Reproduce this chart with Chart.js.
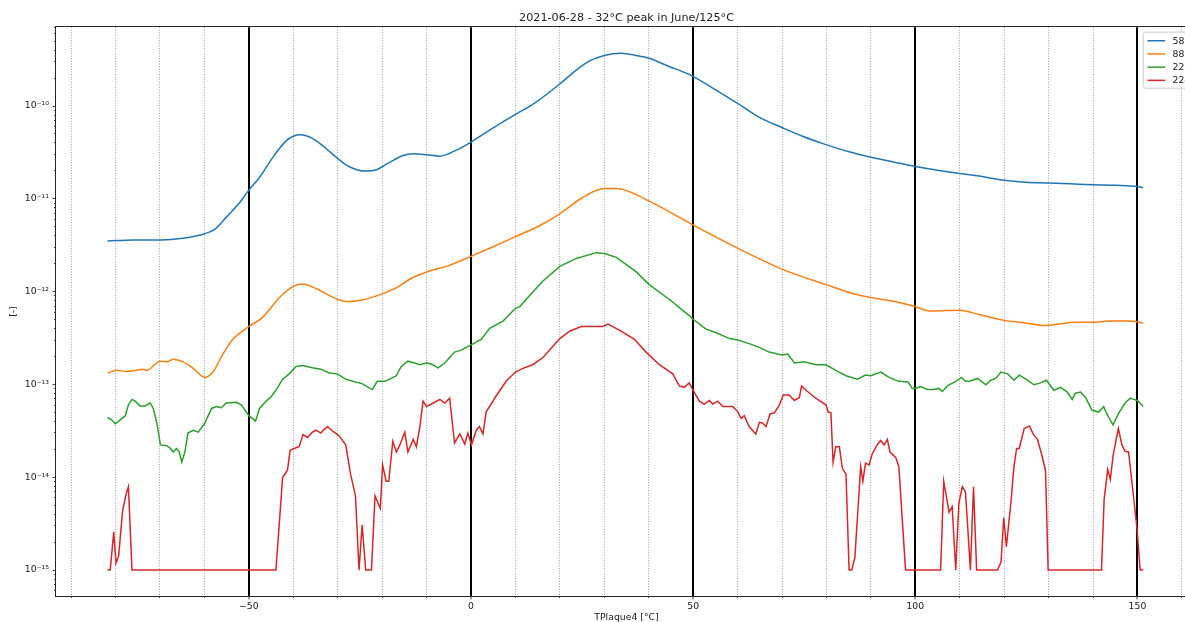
<!DOCTYPE html>
<html>
<head>
<meta charset="utf-8">
<title>TPlaque4 sweep</title>
<script src="https://cdn.jsdelivr.net/npm/chart.js@4/dist/chart.umd.min.js"></script>
<style>
  html, body { margin: 0; padding: 0; background: #fff; overflow: hidden; }
  #wrap { width: 1185px; height: 622px; overflow: hidden; position: relative; }
  canvas { display: block; }
</style>
</head>
<body>
<div id="wrap"><canvas id="chart" width="1253" height="626"></canvas></div>
<script>
// ---- text ----
const titleText = '2021-06-28 - 32\u00b0C peak in June/125\u00b0C';
const xTitle = 'TPlaque4 [\u00b0C]';
const yTitle = '[-]';
const seriesNames = ['58', '88', '223', '224'];
const seriesColors = ['#1f77b4', '#ff7f0e', '#2ca02c', '#d62728'];

// ---- axes ----
const xMin = -93.4, xMax = 163.4;
const yMin = 5.25e-16, yMax = 7.08e-10;
const xGridTicks = [-90, -80, -70, -60, -50, -40, -30, -20, -10, 0, 10, 20, 30, 40, 50, 60, 70, 80, 90, 100, 110, 120, 130, 140, 150, 160];
const xMajorTicks = [-50, 0, 50, 100, 150];
const yDecades = [-16, -15, -14, -13, -12, -11, -10];

// ---- measurements: [temperature °C, value] ----
const trace58 = [
  [-81.8, 3.51e-12], [-76, 3.61e-12], [-69.9, 3.61e-12], [-64.8, 3.77e-12], [-59.9, 4.21e-12],
  [-57.7, 4.69e-12], [-55.1, 6.31e-12], [-52.1, 9.06e-12], [-50, 1.24e-11], [-47.6, 1.70e-11],
  [-44.6, 2.80e-11], [-41.6, 4.21e-11], [-40, 4.73e-11], [-38.3, 4.90e-11], [-35.7, 4.48e-11],
  [-32.7, 3.51e-11], [-30.1, 2.75e-11], [-27.5, 2.23e-11], [-23.7, 1.99e-11], [-21.5, 2.04e-11],
  [-18.5, 2.44e-11], [-15.3, 2.93e-11], [-13, 3.06e-11], [-10, 2.99e-11], [-7, 2.88e-11],
  [-3.3, 3.35e-11], [0, 4.09e-11], [4.2, 5.51e-11], [10, 8.13e-11], [13.9, 1.04e-10],
  [20, 1.73e-10], [23.7, 2.44e-10], [26.7, 3.06e-10], [30, 3.51e-10], [33.8, 3.71e-10],
  [37.2, 3.51e-10], [40.1, 3.27e-10], [44.6, 2.67e-10], [49.1, 2.19e-10], [54.4, 1.56e-10],
  [60.1, 1.06e-10], [64.9, 7.55e-11], [70, 5.87e-11], [74.6, 4.73e-11], [79.9, 3.84e-11],
  [85.1, 3.21e-11], [90, 2.80e-11], [94.8, 2.51e-11], [100, 2.23e-11], [105.3, 2.02e-11],
  [110, 1.87e-11], [115, 1.74e-11], [120, 1.585e-11], [124.9, 1.51e-11], [129.9, 1.48e-11],
  [134.9, 1.45e-11], [139.9, 1.42e-11], [145, 1.40e-11], [150, 1.36e-11], [151.3, 1.32e-11]
];

const trace88 = [
  [-81.8, 1.33e-13], [-79.7, 1.42e-13], [-77.5, 1.38e-13], [-75.2, 1.42e-13], [-74.1, 1.46e-13],
  [-73, 1.42e-13], [-69.9, 1.78e-13], [-68.5, 1.75e-13], [-67, 1.87e-13], [-64.8, 1.75e-13],
  [-62.5, 1.49e-13], [-59.9, 1.19e-13], [-58.1, 1.36e-13], [-55.8, 2.13e-13], [-53.6, 3.06e-13],
  [-50, 4.21e-13], [-46.9, 5.28e-13], [-43.1, 8.65e-13], [-40, 1.14e-12], [-37.9, 1.21e-12],
  [-34.9, 1.08e-12], [-30.1, 8.28e-13], [-28.2, 7.83e-13], [-24.5, 8.13e-13], [-20, 9.46e-13],
  [-16.5, 1.12e-12], [-13.8, 1.36e-12], [-10, 1.63e-12], [-5.5, 1.87e-12], [0, 2.40e-12],
  [4.2, 2.93e-12], [10, 3.91e-12], [15.4, 5.13e-12], [20, 6.90e-12], [25.2, 1.04e-11],
  [30, 1.29e-11], [32.7, 1.29e-11], [40.1, 9.46e-12], [49.1, 5.51e-12], [60.1, 2.93e-12],
  [70, 1.75e-12], [79.9, 1.19e-12], [85.9, 9.55e-13], [90, 8.65e-13], [94.8, 7.91e-13],
  [100, 6.90e-13], [103.1, 6.2e-13], [107, 6.25e-13], [110, 6.3e-13], [114.4, 5.66e-13],
  [120, 4.90e-13], [124.9, 4.60e-13], [129, 4.31e-13], [132.4, 4.48e-13], [136, 4.69e-13],
  [139.9, 4.69e-13], [143.5, 4.81e-13], [147.2, 4.81e-13], [150, 4.73e-13], [151.3, 4.56e-13]
];

const trace223 = [
  [-81.8, 4.40e-14], [-80.8, 4.13e-14], [-80.1, 3.77e-14], [-79.3, 4.02e-14], [-78.6, 4.28e-14],
  [-77.8, 4.60e-14], [-77.1, 6.03e-14], [-76.3, 6.90e-14], [-75.6, 6.61e-14], [-74.5, 5.87e-14],
  [-73.4, 5.87e-14], [-72.2, 6.31e-14], [-71.5, 5.51e-14], [-70.7, 3.84e-14], [-69.9, 2.23e-14],
  [-68.5, 2.19e-14], [-67.8, 2.08e-14], [-67, 1.87e-14], [-66.3, 2.04e-14], [-65.7, 1.90e-14],
  [-65.1, 1.45e-14], [-64.4, 1.87e-14], [-63.7, 2.99e-14], [-62.5, 3.21e-14], [-61.4, 3.06e-14],
  [-59.9, 3.84e-14], [-58.4, 5.51e-14], [-57.3, 5.77e-14], [-56.2, 5.61e-14], [-55.1, 6.31e-14],
  [-52.8, 6.43e-14], [-51.7, 6.03e-14], [-50, 4.60e-14], [-49.1, 4.28e-14], [-48.5, 4.02e-14],
  [-47.6, 5.51e-14], [-46.1, 6.61e-14], [-45, 7.36e-14], [-43.9, 8.65e-14], [-42.4, 1.14e-13],
  [-40.9, 1.30e-13], [-39.4, 1.56e-13], [-37.9, 1.60e-13], [-35.7, 1.51e-13], [-33.8, 1.46e-13],
  [-31.9, 1.33e-13], [-30.1, 1.30e-13], [-28.2, 1.14e-13], [-26, 1.06e-13], [-24.5, 1.02e-13],
  [-23.7, 9.64e-14], [-22.2, 8.81e-14], [-21.1, 1.08e-13], [-19.3, 1.08e-13], [-18.3, 1.14e-13],
  [-16.8, 1.24e-13], [-15.7, 1.56e-13], [-14.2, 1.78e-13], [-12.7, 1.70e-13], [-11.5, 1.63e-13],
  [-10, 1.70e-13], [-8.9, 1.66e-13], [-7.4, 1.51e-13], [-5.9, 1.70e-13], [-3.7, 2.23e-13],
  [-2.2, 2.34e-13], [0, 2.67e-13], [2.3, 3.06e-13], [4.2, 4.02e-13], [7.2, 4.81e-13],
  [10, 6.61e-13], [11, 6.90e-13], [13.2, 9.06e-13], [16.2, 1.30e-12], [20, 1.87e-12],
  [23.7, 2.28e-12], [28.2, 2.63e-12], [30, 2.58e-12], [32.7, 2.34e-12], [37.2, 1.63e-12],
  [40.1, 1.19e-12], [44.6, 8.28e-13], [49.1, 5.51e-13], [50, 5.04e-13], [52.9, 3.94e-13],
  [55.2, 3.61e-13], [58.2, 3.12e-13], [60.1, 3.01e-13], [62.6, 2.75e-13], [64.9, 2.51e-13],
  [67.1, 2.23e-13], [70, 2.08e-13], [71.3, 2.13e-13], [72.8, 1.70e-13], [75, 1.75e-13],
  [77.6, 1.63e-13], [79.9, 1.63e-13], [82.1, 1.42e-13], [84.4, 1.24e-13], [87, 1.14e-13],
  [88.8, 1.26e-13], [90, 1.24e-13], [92.2, 1.36e-13], [94.1, 1.19e-13], [96.3, 1.08e-13],
  [98.4, 1.06e-13], [99.3, 9.06e-14], [100, 9.06e-14], [101.2, 9.46e-14], [102.7, 8.81e-14],
  [104.2, 8.81e-14], [105.3, 9.06e-14], [106.1, 8.41e-14], [107.2, 9.64e-14], [109.1, 1.08e-13],
  [110.4, 1.19e-13], [111.3, 1.08e-13], [112.2, 1.08e-13], [114, 1.16e-13], [115.9, 9.91e-14],
  [117, 1.11e-13], [118.1, 1.16e-13], [119.3, 1.36e-13], [120.8, 1.30e-13], [122.2, 1.11e-13],
  [123.4, 1.26e-13], [124.9, 1.14e-13], [126.7, 9.91e-14], [128.2, 1.04e-13], [129.5, 1.11e-13],
  [131.2, 8.65e-14], [132.7, 9.31e-14], [134.2, 8.28e-14], [135.3, 6.90e-14], [136, 8.05e-14],
  [137.2, 8.28e-14], [138.3, 7.23e-14], [139.8, 5.27e-14], [141.3, 5.04e-14], [142.4, 5.77e-14],
  [143.1, 4.81e-14], [144.5, 3.67e-14], [145.7, 4.81e-14], [147.2, 6.31e-14], [148.4, 7.10e-14],
  [149.1, 6.90e-14], [150, 6.71e-14], [151.3, 5.77e-14]
];

const trace224 = [
  [-81.8, 1e-15], [-81.2, 1e-15], [-80.4, 2.56e-15], [-79.9, 1.19e-15], [-79.3, 1.42e-15],
  [-78.4, 4.40e-15], [-77.6, 6.61e-15], [-77.1, 7.91e-15], [-76.3, 1e-15], [-43.9, 1e-15],
  [-42.4, 9.91e-15], [-41.3, 1.19e-14], [-40.7, 1.95e-14], [-39.4, 2.08e-14], [-38.7, 2.13e-14],
  [-37.8, 2.88e-14], [-36.8, 2.68e-14], [-35.7, 3.06e-14], [-34.9, 3.21e-14], [-33.8, 2.99e-14],
  [-33.1, 3.26e-14], [-32.3, 3.51e-14], [-31.2, 3.15e-14], [-29.7, 2.80e-14], [-28.2, 2.23e-14],
  [-27.1, 1.08e-14], [-26, 6.31e-15], [-25.2, 1e-15], [-24.5, 3.06e-15], [-23.7, 1e-15],
  [-22.4, 1e-15], [-21.6, 6.31e-15], [-20.4, 4.60e-15], [-19.9, 1.36e-14], [-19.1, 9.06e-15],
  [-18.5, 9.06e-15], [-17.6, 2.44e-14], [-16.8, 1.87e-14], [-16, 2.23e-14], [-14.9, 3.06e-14],
  [-14.2, 1.87e-14], [-13, 2.56e-14], [-12.3, 2.13e-14], [-11.5, 3.51e-14], [-10.8, 6.61e-14],
  [-10, 5.77e-14], [-8.5, 6.31e-14], [-7, 6.90e-14], [-5.9, 6.31e-14], [-4.8, 7.10e-14],
  [-3.7, 2.34e-14], [-2.5, 2.93e-14], [-1.4, 2.27e-14], [-0.7, 2.99e-14], [0.1, 2.23e-14],
  [1.2, 3.21e-14], [1.9, 3.51e-14], [2.7, 2.93e-14], [3.4, 5.04e-14], [5.7, 7.55e-14],
  [7.9, 1.08e-13], [10, 1.36e-13], [11.7, 1.49e-13], [13.9, 1.63e-13], [16.2, 1.95e-13],
  [18.4, 2.56e-13], [20, 3.12e-13], [22.2, 3.74e-13], [24.8, 4.21e-13], [27.4, 4.21e-13],
  [29.7, 4.21e-13], [30.8, 4.48e-13], [33.4, 3.84e-13], [36.8, 3.06e-13], [39.4, 2.23e-13],
  [42.4, 1.63e-13], [45.4, 1.30e-13], [46.9, 9.64e-14], [48, 9.31e-14], [49.1, 1.04e-13],
  [50, 8.65e-14], [51.4, 6.61e-14], [52.5, 6.14e-14], [53.7, 6.71e-14], [54.4, 6.14e-14],
  [55.5, 6.61e-14], [56.7, 5.77e-14], [58.9, 5.77e-14], [60, 5.13e-14], [60.8, 4.28e-14],
  [61.5, 4.60e-14], [62.6, 3.51e-14], [64.1, 2.93e-14], [64.9, 3.91e-14], [65.6, 3.84e-14],
  [66.4, 3.51e-14], [67.3, 4.81e-14], [68.3, 4.94e-14], [69.4, 6.03e-14], [70.3, 7.69e-14],
  [71.6, 7.69e-14], [72.8, 6.71e-14], [73.9, 7.23e-14], [74.4, 9.64e-14], [75.4, 8.65e-14],
  [76.9, 7.55e-14], [78.4, 6.71e-14], [79.9, 6.03e-14], [80.4, 5.04e-14], [81, 4.94e-14],
  [81.5, 1.45e-14], [82.1, 2.13e-14], [82.9, 2.13e-14], [83.6, 1.24e-14], [84.4, 1.08e-14],
  [85.1, 1e-15], [85.7, 1e-15], [86.4, 1.36e-15], [87.7, 1.30e-14], [88.2, 9.06e-15],
  [88.8, 1.42e-14], [89.6, 1.36e-14], [90.3, 1.78e-14], [91.5, 2.27e-14], [92.2, 2.49e-14],
  [93, 2.23e-14], [93.7, 2.56e-14], [94.3, 1.87e-14], [95.6, 1.63e-14], [96.3, 1.30e-14],
  [97.8, 1e-15], [105.7, 1e-15], [106.4, 9.06e-15], [107.6, 4.20e-15], [108.3, 4.81e-15],
  [109.1, 1e-15], [109.8, 5.27e-15], [110.6, 7.91e-15], [111.3, 6.90e-15], [112.4, 1e-15],
  [113.1, 7.91e-15], [113.8, 1e-15], [118.5, 1e-15], [119.3, 1.22e-15], [119.9, 3.67e-15],
  [120.5, 1.78e-15], [121.5, 5.27e-15], [122.2, 1.30e-14], [122.8, 2.04e-14], [123.4, 2.04e-14],
  [124.5, 3.35e-14], [125.7, 3.57e-14], [126.5, 2.93e-14], [127.5, 2.56e-14], [128.4, 1.78e-14],
  [129.3, 1.19e-14], [129.9, 1e-15], [141.9, 1e-15], [142.5, 5.77e-15], [143.3, 1.21e-14],
  [143.9, 9.46e-15], [144.5, 1.70e-14], [145.7, 3.35e-14], [146.5, 2.23e-14], [147.2, 1.90e-14],
  [148, 1.87e-14], [149.9, 2.80e-15], [150.6, 1e-15], [151.3, 1e-15]
];

const traces = [trace58, trace88, trace223, trace224];
const smoothTrace = [true, true, false, false];

// ---- helpers ----
const FONT = 'DejaVu Sans';
const SUP = { '-': '\u207b', '0': '\u2070', '1': '\u00b9', '2': '\u00b2', '3': '\u00b3', '4': '\u2074', '5': '\u2075', '6': '\u2076', '7': '\u2077', '8': '\u2078', '9': '\u2079' };
const powLabel = e => '10' + String(e).split('').map(c => SUP[c]).join('');
const isDecade = v => Math.abs(Math.log10(v) - Math.round(Math.log10(v))) < 1e-6;
const isXMajor = v => xMajorTicks.includes(v);

// log-axis tick positions: 1..9 x each decade inside the range
const yTickValues = [];
yDecades.forEach(e => {
  for (let m = 1; m <= 9; m++) {
    const v = m * Math.pow(10, e);
    if (v >= yMin && v <= yMax) yTickValues.push(v);
  }
});

// ---- plugins ----
// full axes frame drawn over the traces
const axesFrame = {
  id: 'axesFrame',
  afterDatasetsDraw(chart) {
    const { ctx, chartArea: a } = chart;
    ctx.save();
    ctx.strokeStyle = '#262626';
    ctx.lineWidth = 1;
    ctx.strokeRect(Math.round(a.left) - 0.5, Math.round(a.top) - 0.5,
                   Math.round(a.right - a.left) + 1, Math.round(a.bottom - a.top) + 1);
    ctx.restore();
  }
};

// framed legend in the upper right corner of the plot area
const boxLegend = {
  id: 'boxLegend',
  afterDraw(chart) {
    const { ctx, chartArea: a } = chart;
    const fs = 9.3;
    const sets = chart.data.datasets;
    ctx.save();
    ctx.font = `${fs}px "${FONT}"`;
    const textW = Math.max(...sets.map(d => ctx.measureText(d.label).width));
    const pad = 0.4 * fs, handle = 2 * fs, gap = 0.8 * fs, pitch = 13.2;
    const w = pad * 2 + handle + gap + textW;
    const h = pad * 2 + pitch * sets.length - 0.45 * fs;
    const right = a.right - 3, top = a.top + 4.5;
    const left = right - w;
    ctx.beginPath();
    ctx.roundRect(left + 0.5, top + 0.5, w, h, 2.5);
    ctx.fillStyle = 'rgba(255,255,255,0.8)';
    ctx.fill();
    ctx.strokeStyle = '#cccccc';
    ctx.lineWidth = 1;
    ctx.stroke();
    sets.forEach((d, i) => {
      const y = top + pad + 5.4 + i * pitch;
      ctx.beginPath();
      ctx.moveTo(left + pad + 1, y);
      ctx.lineTo(left + pad + handle, y);
      ctx.strokeStyle = d.borderColor;
      ctx.lineWidth = 1.5;
      ctx.stroke();
      ctx.fillStyle = '#222';
      ctx.textBaseline = 'middle';
      ctx.textAlign = 'left';
      ctx.fillText(d.label, left + pad + handle + gap, y + 0.5);
    });
    ctx.restore();
  }
};

// ---- chart ----
const datasets = traces.map((tr, i) => ({
  label: seriesNames[i],
  data: tr.map(([t, v]) => ({ x: t, y: v })),
  borderColor: seriesColors[i],
  backgroundColor: seriesColors[i],
  borderWidth: 1.5,
  pointRadius: 0,
  fill: false,
  tension: 0,
  cubicInterpolationMode: smoothTrace[i] ? 'monotone' : 'default',
  order: traces.length - 1 - i
}));

new Chart(document.getElementById('chart'), {
  type: 'line',
  data: { datasets },
  plugins: [axesFrame, boxLegend],
  options: {
    responsive: false,
    devicePixelRatio: 1,
    animation: false,
    layout: { padding: { left: 0, right: 56, top: 0, bottom: 0 } },
    plugins: {
      legend: { display: false },
      tooltip: { enabled: false },
      title: {
        display: true,
        fullSize: false,
        text: titleText,
        color: '#222',
        font: { family: FONT, size: 11.2, weight: 'normal' },
        padding: { top: 11.3, bottom: 2.4 }
      }
    },
    scales: {
      x: {
        type: 'linear',
        min: xMin,
        max: xMax,
        afterFit: s => { s.height = 30; },
        afterBuildTicks: s => { s.ticks = xGridTicks.map(v => ({ value: v })); },
        ticks: {
          autoSkip: false,
          maxRotation: 0,
          padding: 1.5,
          color: '#222',
          font: { family: FONT, size: 9.3 },
          callback: v => isXMajor(v) ? (v < 0 ? '\u2212' + Math.abs(v) : String(v)) : ''
        },
        grid: {
          drawOnChartArea: true,
          drawTicks: true,
          tickLength: 3.5,
          color: c => (c.tick && isXMajor(c.tick.value)) ? '#000000' : '#9a9a9a',
          lineWidth: c => (c.tick && isXMajor(c.tick.value)) ? 2 : 0.9,
          tickColor: '#333',
          tickWidth: 0.9,
          tickBorderDash: c => (c.tick && isXMajor(c.tick.value)) ? [] : [2, 20]
        },
        border: {
          display: false,
          dash: c => (c.tick && !isXMajor(c.tick.value)) ? [1, 1.6] : []
        },
        title: {
          display: true,
          text: xTitle,
          color: '#222',
          font: { family: FONT, size: 9.3 },
          padding: { top: 0, bottom: 2.4 }
        }
      },
      y: {
        type: 'logarithmic',
        min: yMin,
        max: yMax,
        afterFit: s => { s.width = 56; },
        afterBuildTicks: s => { s.ticks = yTickValues.map(v => ({ value: v })); },
        ticks: {
          autoSkip: false,
          padding: 3.5,
          color: '#222',
          font: { family: FONT, size: 9.3 },
          callback: v => isDecade(v) ? powLabel(Math.round(Math.log10(v))) : ''
        },
        grid: {
          drawOnChartArea: false,
          drawTicks: true,
          tickLength: 3.5,
          tickColor: '#333',
          tickWidth: 0.9,
          tickBorderDash: c => (c.tick && isDecade(c.tick.value)) ? [] : [2, 20],
          tickBorderDashOffset: c => (c.tick && isDecade(c.tick.value)) ? 0 : -1.5
        },
        border: { display: false },
        title: {
          display: true,
          text: yTitle,
          color: '#222',
          font: { family: FONT, size: 9.3 },
          padding: { top: 8.4, bottom: 0 }
        }
      }
    }
  }
});
</script>
</body>
</html>
